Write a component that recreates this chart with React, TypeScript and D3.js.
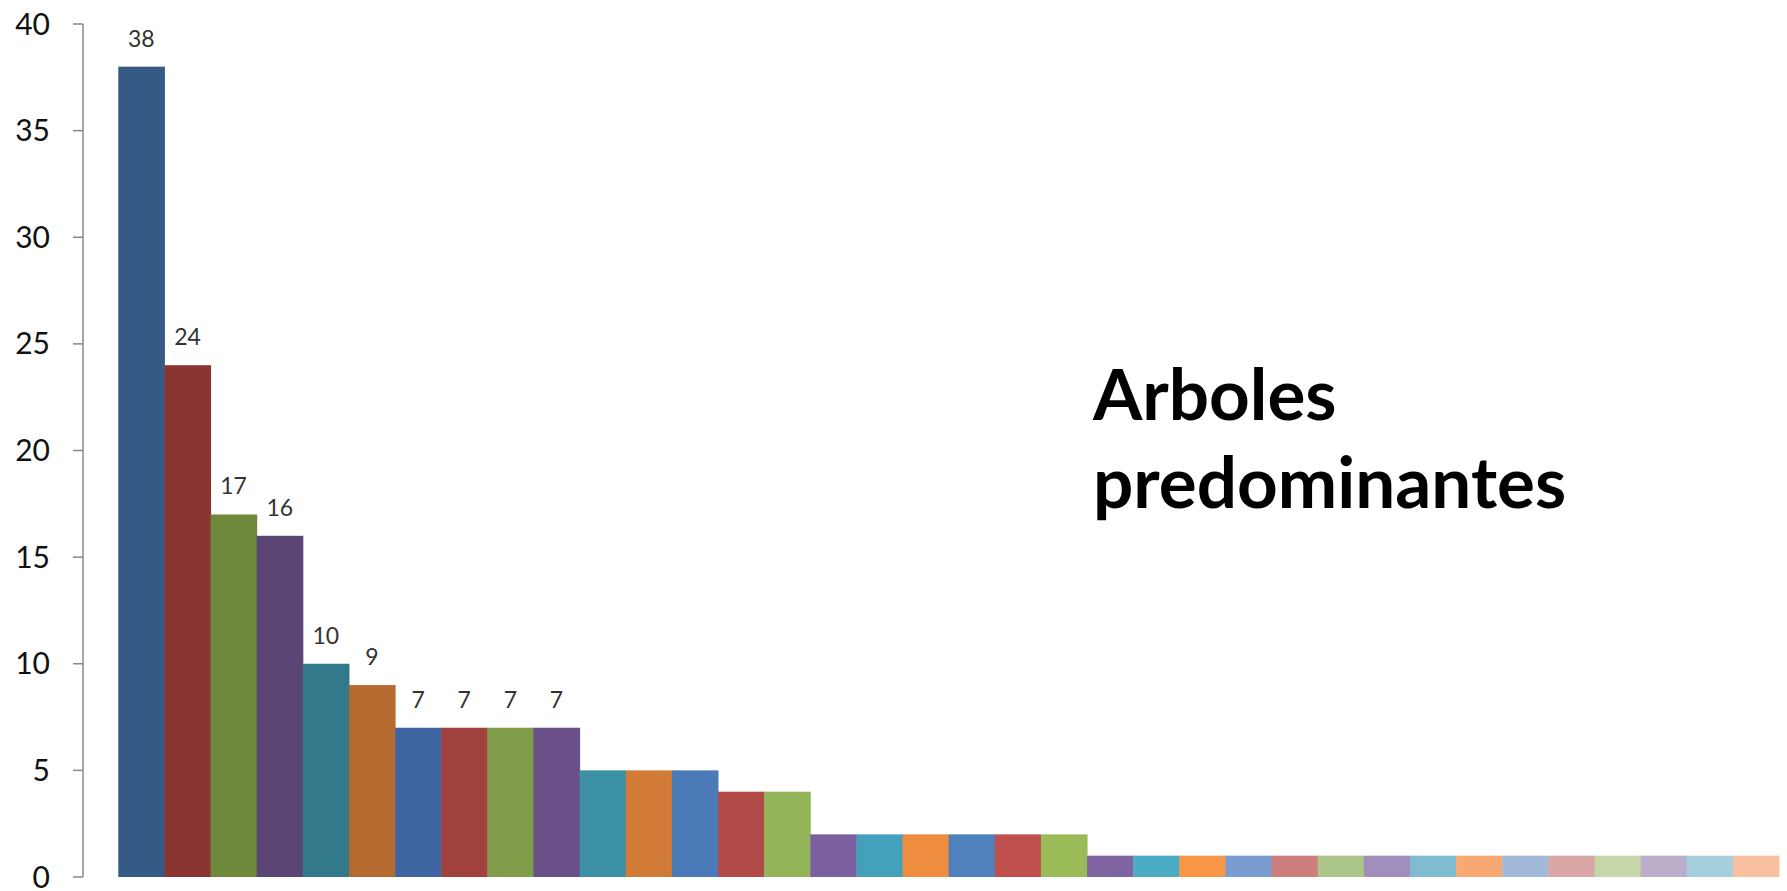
import React from "react";
import * as d3 from "d3";

const categories: string[] = Array.from({ length: 36 }, (_, i) => `Árbol ${i + 1}`);
const values: number[] = [38, 24, 17, 16, 10, 9, 7, 7, 7, 7, 5, 5, 5, 4, 4, 2, 2, 2, 2, 2, 2, 1, 1, 1, 1, 1, 1, 1, 1, 1, 1, 1, 1, 1, 1, 1];
const colors: string[] = [
  "#365a86", "#8b3532", "#6e883c", "#5b4574", "#31798b", "#b56b30",
  "#3f65a0", "#a0413e", "#819d4a", "#6a5089", "#3b90a6", "#d27b37",
  "#4a7ab8", "#b24a47", "#94b458", "#7b5f9e", "#43a1bd", "#ee8c3f",
  "#4f81bd", "#c0504d", "#9bbb59", "#8064a2", "#4bacc6", "#f79646",
  "#7b9cd1", "#cd7f7e", "#adc68a", "#a08ebd", "#7fbcd1", "#f9a874",
  "#a3b9da", "#d9a6a5", "#c5d6a9", "#bbaecb", "#a6cfde", "#f9c0a0",
];
const labeledCount = 10;
const yTicks: number[] = [0, 5, 10, 15, 20, 25, 30, 35, 40];
const titleLines: string[] = ["Arboles", "predominantes"];

const W = 1787;
const H = 891;

export default function App() {
  const x = d3.scaleBand<string>().domain(categories).range([118.3, 1779]).padding(0);
  const y = d3.scaleLinear().domain([0, 40]).range([877, 24]);
  const axisX = 83;

  return (
    <svg
      width={W}
      height={H}
      style={{ position: "absolute", left: 0, top: 0, background: "#fff" }}
      fontFamily="Lato, 'Open Sans', sans-serif"
    >
      {/* bars */}
      {categories.map((c, i) => (
        <rect
          key={c}
          x={x(c)!}
          y={y(values[i])}
          width={x.bandwidth() + 0.5}
          height={y(0) - y(values[i])}
          fill={colors[i]}
        />
      ))}
      {/* data labels */}
      {categories.slice(0, labeledCount).map((c, i) => (
        <text
          key={"l" + c}
          x={x(c)! + x.bandwidth() / 2}
          y={y(values[i]) - 20}
          textAnchor="middle"
          fontSize={23}
          fill="#333"
        >
          {values[i]}
        </text>
      ))}
      {/* y axis */}
      <line x1={axisX} x2={axisX} y1={y(40)} y2={y(0)} stroke="#888" strokeWidth={1.5} />
      {yTicks.map((t) => (
        <g key={"t" + t}>
          <line x1={axisX - 10} x2={axisX} y1={y(t)} y2={y(t)} stroke="#888" strokeWidth={1.5} />
          <text x={50} y={y(t)} dy="0.35em" textAnchor="end" fontSize={30} fill="#111">
            {t}
          </text>
        </g>
      ))}
      {/* title */}
      {titleLines.map((line, i) => (
        <text key={line} x={1093} y={420 + i * 88} fontSize={71} fontWeight="bold" fill="#000">
          {line}
        </text>
      ))}
    </svg>
  );
}
